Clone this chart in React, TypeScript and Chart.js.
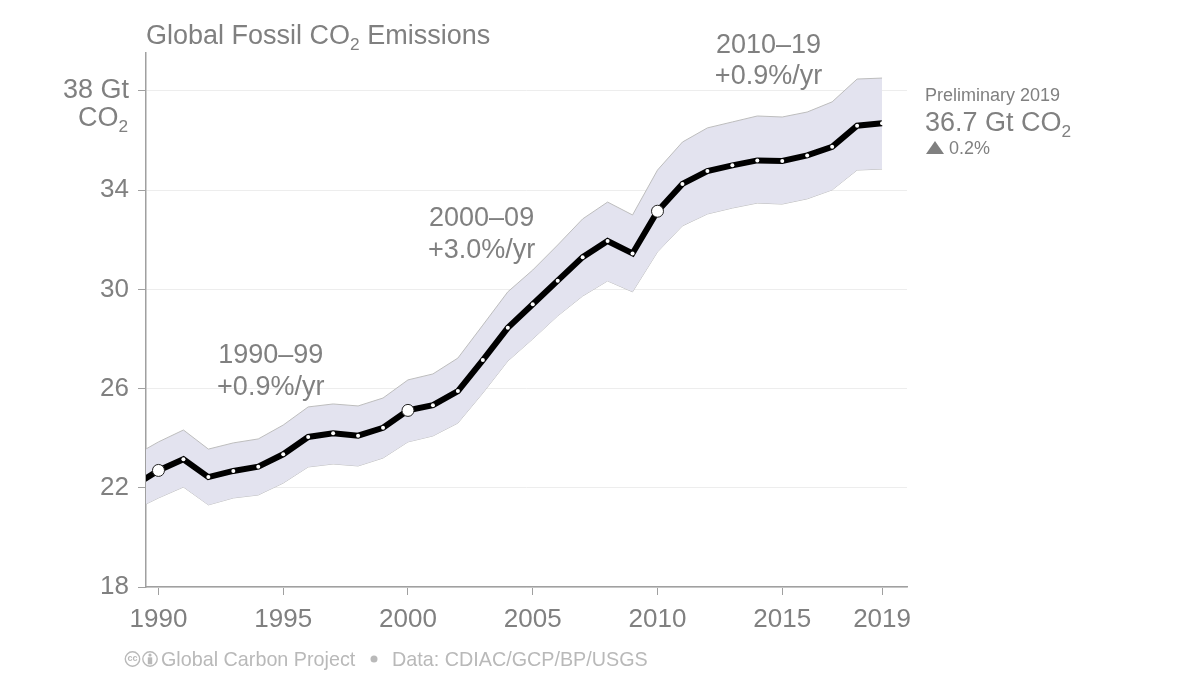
import React, { useEffect, useRef } from "react";
import { Chart, registerables } from "chart.js";

Chart.register(...registerables);

const years = [1989, 1990, 1991, 1992, 1993, 1994, 1995, 1996, 1997, 1998, 1999, 2000, 2001, 2002, 2003, 2004, 2005, 2006, 2007, 2008, 2009, 2010, 2011, 2012, 2013, 2014, 2015, 2016, 2017, 2018, 2019];
const emissions = [22.07, 22.7, 23.15, 22.43, 22.68, 22.85, 23.35, 24.05, 24.2, 24.1, 24.42, 25.12, 25.33, 25.9, 27.15, 28.45, 29.4, 30.35, 31.3, 31.95, 31.45, 33.15, 34.25, 34.77, 35.0, 35.2, 35.18, 35.4, 35.75, 36.6, 36.7];
const upper = [23.28, 23.85, 24.33, 23.56, 23.81, 23.97, 24.53, 25.26, 25.38, 25.3, 25.62, 26.35, 26.59, 27.23, 28.56, 29.9, 30.78, 31.79, 32.84, 33.52, 33.0, 34.81, 35.94, 36.51, 36.75, 36.99, 36.95, 37.15, 37.56, 38.48, 38.52];
const lower = [21.1, 21.59, 22.03, 21.31, 21.59, 21.71, 22.19, 22.84, 22.96, 22.88, 23.2, 23.85, 24.09, 24.61, 25.82, 27.11, 28.0, 28.93, 29.73, 30.34, 29.9, 31.51, 32.56, 33.04, 33.28, 33.48, 33.44, 33.65, 34.01, 34.81, 34.85];
const markerYears = [1990, 2000, 2010];
const xTicks = [1990, 1995, 2000, 2005, 2010, 2015, 2019];
const yTicks = [18, 22, 26, 30, 34, 38];
const periods = [
  { label: "1990–99", rate: "+0.9%/yr", x: 1994.5, y1: 27.33, y2: 26.03 },
  { label: "2000–09", rate: "+3.0%/yr", x: 2002.95, y1: 32.86, y2: 31.56 },
  { label: "2010–19", rate: "+0.9%/yr", x: 2014.45, y1: 39.83, y2: 38.58 },
];

const FONT = '"Liberation Sans", Arial, sans-serif';
const GREY = "#808080";

function font(size: number) {
  return `${size}px ${FONT}`;
}

function co2(ctx: CanvasRenderingContext2D, prefix: string, suffix: string, x: number, y: number, size: number, color: string) {
  ctx.fillStyle = color;
  ctx.textAlign = "left";
  ctx.textBaseline = "alphabetic";
  ctx.font = font(size);
  ctx.fillText(prefix, x, y);
  let cx = x + ctx.measureText(prefix).width;
  ctx.font = font(size * 0.64);
  ctx.fillText("2", cx, y + size * 0.24);
  cx += ctx.measureText("2").width;
  ctx.font = font(size);
  if (suffix) ctx.fillText(suffix, cx, y);
}

const textPlugin = {
  id: "texts",
  afterDraw(chart: any) {
    const { ctx, scales } = chart;
    const sx = scales.x;
    const sy = scales.y;
    ctx.save();

    co2(ctx, "Global Fossil CO", " Emissions", 146, 44, 27, GREY);

    ctx.textBaseline = "middle";
    ctx.textAlign = "center";
    ctx.fillStyle = GREY;
    ctx.font = font(27);
    for (const p of periods) {
      ctx.fillText(p.label, sx.getPixelForValue(p.x), sy.getPixelForValue(p.y1));
      ctx.fillText(p.rate, sx.getPixelForValue(p.x), sy.getPixelForValue(p.y2));
    }

    co2(ctx, "CO", "", 78, 126, 27, GREY);

    ctx.textAlign = "left";
    ctx.textBaseline = "alphabetic";
    ctx.fillStyle = GREY;
    ctx.font = font(18);
    ctx.fillText("Preliminary 2019", 925, 101);
    co2(ctx, "36.7 Gt CO", "", 925, 131, 27, GREY);
    ctx.fillStyle = GREY;
    ctx.font = font(18);
    ctx.fillText("0.2%", 949, 154);
    ctx.beginPath();
    ctx.moveTo(926, 154);
    ctx.lineTo(944, 154);
    ctx.lineTo(935, 141);
    ctx.closePath();
    ctx.fill();

    const FOOT = "#b9b9b9";
    ctx.strokeStyle = FOOT;
    ctx.lineWidth = 1.4;
    ctx.beginPath();
    ctx.arc(132.5, 659, 7.2, 0, Math.PI * 2);
    ctx.stroke();
    ctx.beginPath();
    ctx.arc(150, 659, 7.2, 0, Math.PI * 2);
    ctx.stroke();
    ctx.fillStyle = FOOT;
    ctx.font = `bold 9px ${FONT}`;
    ctx.textAlign = "center";
    ctx.textBaseline = "middle";
    ctx.fillText("cc", 132.5, 659);
    ctx.beginPath();
    ctx.arc(150, 655, 1.6, 0, Math.PI * 2);
    ctx.fill();
    ctx.fillRect(147.8, 657.3, 4.4, 7);

    ctx.textAlign = "left";
    ctx.textBaseline = "alphabetic";
    ctx.font = font(19.75);
    ctx.fillText("Global Carbon Project", 161, 666);
    ctx.beginPath();
    ctx.arc(374, 659, 3.5, 0, Math.PI * 2);
    ctx.fill();
    ctx.fillText("Data: CDIAC/GCP/BP/USGS", 392, 666);
    ctx.restore();
  },
};

export default function App() {
  const ref = useRef<HTMLCanvasElement>(null);
  useEffect(() => {
    document.body.style.margin = "0";
    const toPoints = (arr: number[]) => arr.map((y, i) => ({ x: years[i], y }));
    const chart = new Chart(ref.current!, {
      type: "line",
      data: {
        datasets: [
          {
            label: "Emissions",
            data: toPoints(emissions),
            borderColor: "#000000",
            borderWidth: 6,
            clip: 0,
            order: 0,
            pointRadius: (c: any) => {
              const yr = years[c.dataIndex];
              if (yr === 1989) return 0;
              return markerYears.includes(yr) ? 6 : 2;
            },
            pointBackgroundColor: "#ffffff",
            pointBorderColor: (c: any) => (markerYears.includes(years[c.dataIndex]) ? "#222222" : "#ffffff"),
            pointBorderWidth: (c: any) => (markerYears.includes(years[c.dataIndex]) ? 1 : 0),
          },
          {
            label: "Upper",
            data: toPoints(upper),
            borderColor: "#bdbdbd",
            borderWidth: 1,
            pointRadius: 0,
            clip: 0,
            order: 1,
            backgroundColor: "#e3e3ef",
            fill: "+1",
          },
          {
            label: "Lower",
            data: toPoints(lower),
            borderColor: "#bdbdbd",
            borderWidth: 1,
            pointRadius: 0,
            clip: 0,
            order: 1,
            fill: false,
          },
        ],
      } as any,
      options: {
        animation: false,
        responsive: false,
        layout: { padding: { left: 0, right: 293, top: 53, bottom: 0 } },
        plugins: { legend: { display: false }, tooltip: { enabled: false }, title: { display: false } },
        scales: {
          x: {
            type: "linear",
            min: 1989.5,
            max: 2020,
            afterBuildTicks: (s: any) => {
              s.ticks = xTicks.map((value) => ({ value }));
            },
            afterFit: (s: any) => {
              s.height = 88;
            },
            border: { color: "#a0a0a0", width: 1.5 },
            grid: { drawOnChartArea: false, color: "#a0a0a0", tickColor: "#a0a0a0", tickLength: 8, lineWidth: 1 },
            ticks: {
              autoSkip: false,
              maxRotation: 0,
              padding: 9,
              color: GREY,
              font: { family: FONT, size: 26 },
              callback: (v: any) => String(v),
            },
          },
          y: {
            type: "linear",
            min: 18,
            max: 39.53,
            afterBuildTicks: (s: any) => {
              s.ticks = yTicks.map((value) => ({ value }));
            },
            afterFit: (s: any) => {
              s.width = 146;
            },
            border: { color: "#a0a0a0", width: 1.5 },
            grid: { color: "#ededed", tickColor: "#a0a0a0", tickLength: 8, lineWidth: 1 },
            ticks: {
              padding: 9,
              color: GREY,
              font: (c: any) => ({ family: FONT, size: c.tick && c.tick.value === 38 ? 27 : 26 }),
              callback: (v: any) => (v === 38 ? "38 Gt" : String(v)),
            },
          },
        },
      } as any,
      plugins: [textPlugin],
    });
    return () => chart.destroy();
  }, []);
  return <canvas ref={ref} width={1200} height={675} style={{ display: "block", width: 1200, height: 675 }} />;
}
